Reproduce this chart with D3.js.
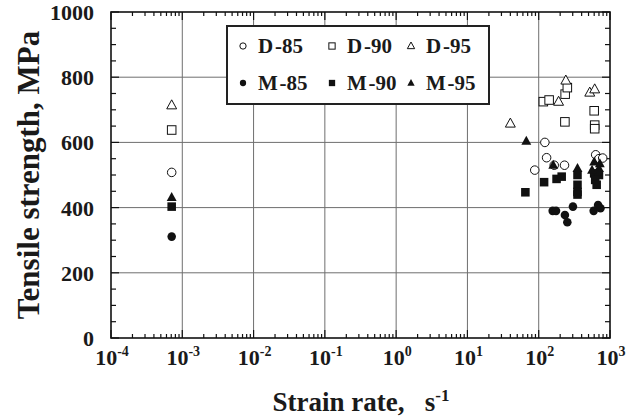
<!DOCTYPE html>
<html>
<head>
<meta charset="utf-8">
<script src="https://cdn.jsdelivr.net/npm/d3@7"></script>
<style>
  body { margin: 0; background: #fff; }
  text { font-family: "Liberation Serif", "DejaVu Serif", serif; font-weight: bold; fill: #1a1a1a; }
</style>
</head>
<body>
<div id="chart"></div>
<script>
// strain rate (1/s), tensile strength (MPa)
const d85 = [[7.1e-4, 508], [88, 515], [122, 600], [129, 553], [165, 530], [230, 530], [630, 562], [700, 550], [790, 552]];
const d90 = [[7.1e-4, 638], [116, 725], [140, 730], [235, 748], [252, 768], [233, 663], [600, 697], [610, 653], [610, 642]];
const d95 = [[7.1e-4, 714], [40, 658], [190, 725], [240, 790], [520, 753], [610, 763]];
const m85 = [[7.1e-4, 311], [157, 390], [175, 390], [233, 377], [252, 355], [302, 403], [590, 390], [680, 408], [735, 398]];
const m90 = [[7.1e-4, 403], [65, 447], [119, 478], [178, 488], [210, 495], [350, 500], [350, 470], [350, 448], [350, 440], [600, 505], [700, 500], [620, 485], [650, 470]];
const m95 = [[7.1e-4, 431], [67, 604], [160, 530], [350, 520], [600, 540], [720, 535], [560, 515], [700, 520]];

const decades = [-4, -3, -2, -1, 0, 1, 2, 3];
const yTicks = [0, 200, 400, 600, 800, 1000];

const W = 626, H = 417;
const svg = d3.select("#chart").append("svg")
    .attr("width", W)
    .attr("height", H);

const x = d3.scaleLog().domain([1e-4, 1e3]).range([111, 610]);
const y = d3.scaleLinear().domain([0, 1000]).range([338, 12]);

// grid
svg.append("g").selectAll("line")
    .data(decades.slice(1, -1))
    .enter().append("line")
    .attr("x1", d => x(Math.pow(10, d))).attr("x2", d => x(Math.pow(10, d)))
    .attr("y1", y(0)).attr("y2", y(1000))
    .attr("stroke", "#6e6e6e").attr("stroke-width", 1);

svg.append("g").selectAll("line")
    .data(yTicks.slice(1, -1))
    .enter().append("line")
    .attr("x1", x(1e-4)).attr("x2", x(1e3))
    .attr("y1", d => y(d)).attr("y2", d => y(d))
    .attr("stroke", "#6e6e6e").attr("stroke-width", 1);

// inward ticks on all four sides
const logTicks = [];
decades.forEach(d => {
    for (let k = 1; k <= 9; k++) {
        const v = k * Math.pow(10, d);
        if (v <= 1e3) logTicks.push({ v: v, major: k === 1 });
    }
});
const linTicks = d3.range(0, 1001, 50).map(v => ({ v: v, major: v % 200 === 0 }));

const ticks = svg.append("g").attr("stroke", "#111").attr("stroke-width", 1.2);
logTicks.forEach(t => {
    const len = t.major ? 8 : 4;
    ticks.append("line").attr("x1", x(t.v)).attr("x2", x(t.v)).attr("y1", y(0)).attr("y2", y(0) - len);
    ticks.append("line").attr("x1", x(t.v)).attr("x2", x(t.v)).attr("y1", y(1000)).attr("y2", y(1000) + len);
});
linTicks.forEach(t => {
    const len = t.major ? 8 : 5;
    ticks.append("line").attr("x1", x(1e-4)).attr("x2", x(1e-4) + len).attr("y1", y(t.v)).attr("y2", y(t.v));
    ticks.append("line").attr("x1", x(1e3)).attr("x2", x(1e3) - len).attr("y1", y(t.v)).attr("y2", y(t.v));
});

// frame
svg.append("rect")
    .attr("x", x(1e-4)).attr("y", y(1000))
    .attr("width", x(1e3) - x(1e-4)).attr("height", y(0) - y(1000))
    .attr("fill", "none").attr("stroke", "#111").attr("stroke-width", 1.6);

// tick labels
svg.append("g").selectAll("text")
    .data(yTicks)
    .enter().append("text")
    .attr("x", 94).attr("y", d => y(d) + 8)
    .attr("text-anchor", "end")
    .attr("font-size", 22)
    .text(d => d);

const xl = svg.append("g").selectAll("text")
    .data(decades)
    .enter().append("text")
    .attr("x", d => x(Math.pow(10, d)) + 1).attr("y", 365)
    .attr("text-anchor", "middle")
    .attr("font-size", 22);
xl.append("tspan").text("10");
xl.append("tspan").attr("dy", -9).attr("font-size", 14).text(d => d);

// axis titles
svg.append("text")
    .attr("transform", `translate(39,${(y(0) + y(1000)) / 2}) rotate(-90)`)
    .attr("text-anchor", "middle")
    .attr("font-size", 31)
    .text("Tensile strength, MPa");

const xt = svg.append("text")
    .attr("x", 361).attr("y", 411)
    .attr("text-anchor", "middle")
    .attr("font-size", 27);
xt.append("tspan").text("Strain rate,\u00a0\u00a0\u00a0s");
xt.append("tspan").attr("dy", -10).attr("font-size", 17).text("-1");

// symbols
function drawMark(g, type, filled, cx, cy, s) {
    const fill = filled ? "#111" : "#fff";
    const stroke = "#111";
    if (type === "circle") {
        g.append("circle").attr("cx", cx).attr("cy", cy).attr("r", s * 0.45)
            .attr("fill", fill).attr("stroke", stroke).attr("stroke-width", filled ? 0 : 1);
    } else if (type === "square") {
        g.append("rect").attr("x", cx - s * 0.45).attr("y", cy - s * 0.45)
            .attr("width", s * 0.9).attr("height", s * 0.9)
            .attr("fill", fill).attr("stroke", stroke).attr("stroke-width", filled ? 0 : 1);
    } else {
        const h = s * 0.95;
        g.append("path")
            .attr("d", `M${cx},${cy - h * 0.6} L${cx + h * 0.55},${cy + h * 0.4} L${cx - h * 0.55},${cy + h * 0.4} Z`)
            .attr("fill", fill).attr("stroke", stroke).attr("stroke-width", filled ? 0 : 1);
    }
}

const series = [
    { name: "D-85", data: d85, type: "circle", filled: false },
    { name: "D-90", data: d90, type: "square", filled: false },
    { name: "D-95", data: d95, type: "triangle", filled: false },
    { name: "M-85", data: m85, type: "circle", filled: true },
    { name: "M-90", data: m90, type: "square", filled: true },
    { name: "M-95", data: m95, type: "triangle", filled: true }
];

const marks = svg.append("g");
series.forEach(s => {
    s.data.forEach(p => drawMark(marks, s.type, s.filled, x(p[0]), y(p[1]), 9.5));
});

// legend
const leg = svg.append("g");
leg.append("rect")
    .attr("x", 227).attr("y", 26).attr("width", 262).attr("height", 78)
    .attr("fill", "#fff").attr("stroke", "#222").attr("stroke-width", 2);
const colX = [243, 332, 411];
const rowY = [46, 83];
series.forEach((s, i) => {
    const cx = colX[i % 3], cy = rowY[Math.floor(i / 3)];
    drawMark(leg, s.type, s.filled, cx, cy, 7);
    leg.append("text")
        .attr("x", cx + 15).attr("y", cy + 7)
        .attr("font-size", 21)
        .text(s.name.replace("-", "\u200a-"));
});
</script>
</body>
</html>
